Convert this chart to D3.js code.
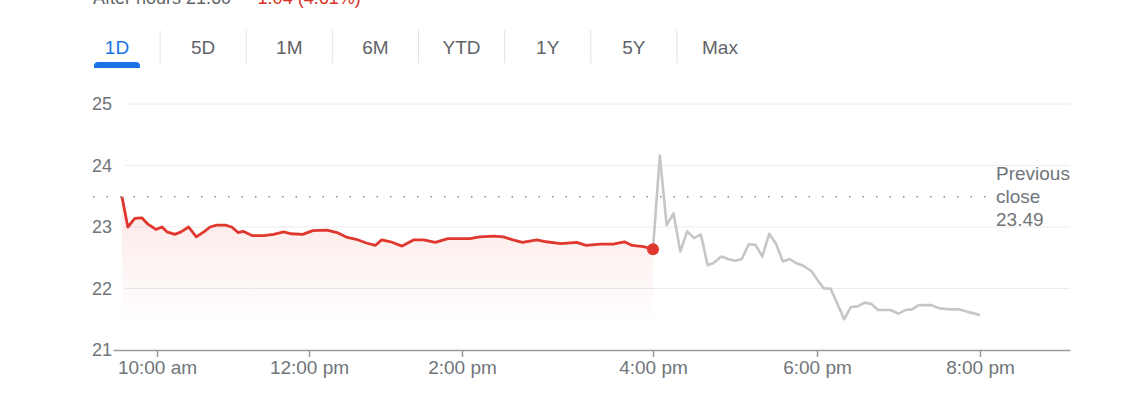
<!DOCTYPE html>
<html>
<head>
<meta charset="utf-8">
<script src="https://cdn.jsdelivr.net/npm/d3@7"></script>
<style>
  body { margin: 0; background: #fff; }
  svg { display: block; font-family: "Liberation Sans", Arial, sans-serif; }
</style>
</head>
<body>
<div id="chart"></div>
<script>
// regular session, minutes since midnight
const regularTimes = [570, 575, 581, 587, 592, 599, 604, 608, 614, 619, 625, 631, 637, 642, 647, 654, 659, 664,
  668, 675, 684, 692, 700, 706, 715, 723, 734, 742, 750, 757, 765, 772, 777, 784, 793, 802, 810, 819, 829, 838,
  845, 851, 860, 866, 872, 878, 887, 893, 902, 912, 918, 927, 935, 942, 947, 954, 960];
const regularPrices = [23.49, 23.00, 23.14, 23.15, 23.05, 22.96, 23.00, 22.92, 22.88, 22.92, 23.00, 22.84, 22.92,
  23.00, 23.03, 23.03, 23.00, 22.91, 22.93, 22.86, 22.86, 22.88, 22.92, 22.89, 22.88, 22.94, 22.95, 22.91, 22.83,
  22.80, 22.74, 22.70, 22.79, 22.76, 22.69, 22.79, 22.79, 22.75, 22.81, 22.81, 22.81, 22.84, 22.85, 22.84, 22.79,
  22.75, 22.79, 22.76, 22.73, 22.75, 22.70, 22.72, 22.72, 22.76, 22.70, 22.68, 22.64];

// after hours
const afterTimes = [960, 965, 970, 975, 980, 985, 990, 995, 1000, 1004, 1010, 1015, 1020, 1025, 1030, 1035, 1040,
  1045, 1050, 1055, 1060, 1065, 1070, 1076, 1081, 1085, 1090, 1100, 1105, 1110, 1115, 1120, 1125, 1134, 1140,
  1145, 1150, 1155, 1164, 1170, 1178, 1185, 1191, 1200];
const afterPrices = [22.64, 24.16, 23.03, 23.22, 22.60, 22.93, 22.82, 22.88, 22.38, 22.41, 22.52, 22.48, 22.45,
  22.48, 22.72, 22.71, 22.52, 22.89, 22.73, 22.44, 22.48, 22.41, 22.37, 22.28, 22.12, 22.00, 22.00, 21.50, 21.70,
  21.71, 21.77, 21.75, 21.65, 21.65, 21.59, 21.65, 21.66, 21.73, 21.73, 21.68, 21.66, 21.66, 21.62, 21.57];

const previousClose = 23.49;
const yTicks = [21, 22, 23, 24, 25];
const xTicks = [600, 720, 840, 960, 1080, 1200];
const tabs = ['1D', '5D', '1M', '6M', 'YTD', '1Y', '5Y', 'Max'];

const width = 1144, height = 397;
const font = '"Liberation Sans", Arial, sans-serif';

const svg = d3.select('#chart').append('svg')
  .attr('width', width)
  .attr('height', height);

// header line, mostly cut off at the top like the source
const head = svg.append('text')
  .attr('x', 93).attr('y', 4)
  .attr('font-size', 18).attr('fill', '#5f6368');
head.append('tspan').text('After hours 21.60 · ');
head.append('tspan').attr('fill', '#d93025').text('−1.04 (4.61%)');

// range tabs
const tabX = d3.scalePoint().domain(tabs).range([117, 720]);
const tabG = svg.append('g');
tabG.selectAll('text')
  .data(tabs)
  .enter()
  .append('text')
  .attr('x', d => tabX(d))
  .attr('y', 54)
  .attr('text-anchor', 'middle')
  .attr('font-size', 19)
  .attr('fill', (d, i) => i === 0 ? '#1a73e8' : '#5f6368')
  .text(d => d);
tabG.selectAll('line')
  .data(tabs.slice(1))
  .enter()
  .append('line')
  .attr('x1', d => tabX(d) - tabX.step() / 2)
  .attr('x2', d => tabX(d) - tabX.step() / 2)
  .attr('y1', 30).attr('y2', 63)
  .attr('stroke', '#e3e3e3');
tabG.append('path')
  .attr('d', 'M94,68 v-2 a4,4 0 0 1 4,-4 h38 a4,4 0 0 1 4,4 v2 z')
  .attr('fill', '#1a73e8');

const x = d3.scaleLinear()
  .domain([562, 570, 600, 720, 840, 960, 1080, 1200, 1266])
  .range([113, 122, 157, 309, 462, 653, 817, 980, 1070]);

const y = d3.scaleLinear()
  .domain([21, 25])
  .range([350, 104]);

// gridlines
svg.append('g')
  .selectAll('line')
  .data(yTicks.slice(1))
  .enter()
  .append('line')
  .attr('x1', 125).attr('x2', 1070)
  .attr('y1', d => y(d)).attr('y2', d => y(d))
  .attr('stroke', '#ececec');

// y labels
svg.append('g')
  .attr('transform', 'translate(113,0)')
  .call(d3.axisLeft(y).tickValues(yTicks).tickFormat(d3.format('d')).tickSize(0).tickPadding(1))
  .call(g => g.select('.domain').remove())
  .selectAll('text')
  .attr('font-family', font)
  .attr('font-size', 18)
  .attr('fill', '#70757a');

function fmtTime(m) {
  const h = Math.floor(m / 60), mm = m % 60;
  const h12 = h % 12 === 0 ? 12 : h % 12;
  return h12 + ':' + String(mm).padStart(2, '0') + (h < 12 ? ' am' : ' pm');
}

// x axis
const xAxis = svg.append('g')
  .attr('transform', `translate(0,${y(21)})`)
  .call(d3.axisBottom(x).tickValues(xTicks).tickFormat(fmtTime).tickSize(7).tickSizeOuter(0).tickPadding(4));
xAxis.select('.domain').attr('stroke', '#9a9a9a').attr('stroke-width', 1.5);
xAxis.selectAll('.tick line').attr('stroke', '#9a9a9a').attr('stroke-width', 1.5);
xAxis.selectAll('text')
  .attr('font-family', font)
  .attr('font-size', 19)
  .attr('fill', '#70757a');

// area under regular session
const grad = svg.append('defs').append('linearGradient')
  .attr('id', 'redFade')
  .attr('gradientUnits', 'userSpaceOnUse')
  .attr('x1', 0).attr('x2', 0)
  .attr('y1', y(23)).attr('y2', y(21.4));
grad.append('stop').attr('offset', 0).attr('stop-color', '#e0382e').attr('stop-opacity', 0.09);
grad.append('stop').attr('offset', 1).attr('stop-color', '#e0382e').attr('stop-opacity', 0);

const regular = regularTimes.map((t, i) => ({t, v: regularPrices[i]}));
const after = afterTimes.map((t, i) => ({t, v: afterPrices[i]}));

svg.append('path')
  .datum(regular)
  .attr('fill', 'url(#redFade)')
  .attr('d', d3.area().x(d => x(d.t)).y0(y(21)).y1(d => y(d.v)));

// previous close
svg.append('line')
  .attr('x1', 93).attr('x2', 990)
  .attr('y1', y(previousClose)).attr('y2', y(previousClose))
  .attr('stroke', '#8a8a8a')
  .attr('stroke-width', 1.5)
  .attr('stroke-dasharray', '1.5 12');

const line = d3.line().x(d => x(d.t)).y(d => y(d.v));

svg.append('path')
  .datum(after)
  .attr('fill', 'none')
  .attr('stroke', '#c6c6c6')
  .attr('stroke-width', 2.6)
  .attr('stroke-linejoin', 'round')
  .attr('d', line);

svg.append('path')
  .datum(regular)
  .attr('fill', 'none')
  .attr('stroke', '#e0382e')
  .attr('stroke-width', 2.8)
  .attr('stroke-linejoin', 'round')
  .attr('d', line);

const last = regular[regular.length - 1];
svg.append('circle')
  .attr('cx', x(last.t)).attr('cy', y(last.v))
  .attr('r', 6)
  .attr('fill', '#e0382e');

const pc = svg.append('text')
  .attr('x', 996).attr('y', y(previousClose) - 17)
  .attr('font-size', 19).attr('fill', '#70757a');
['Previous', 'close', previousClose.toFixed(2)].forEach((s, i) => {
  pc.append('tspan').attr('x', 996).attr('dy', i === 0 ? 0 : 23).text(s);
});
</script>
</body>
</html>
